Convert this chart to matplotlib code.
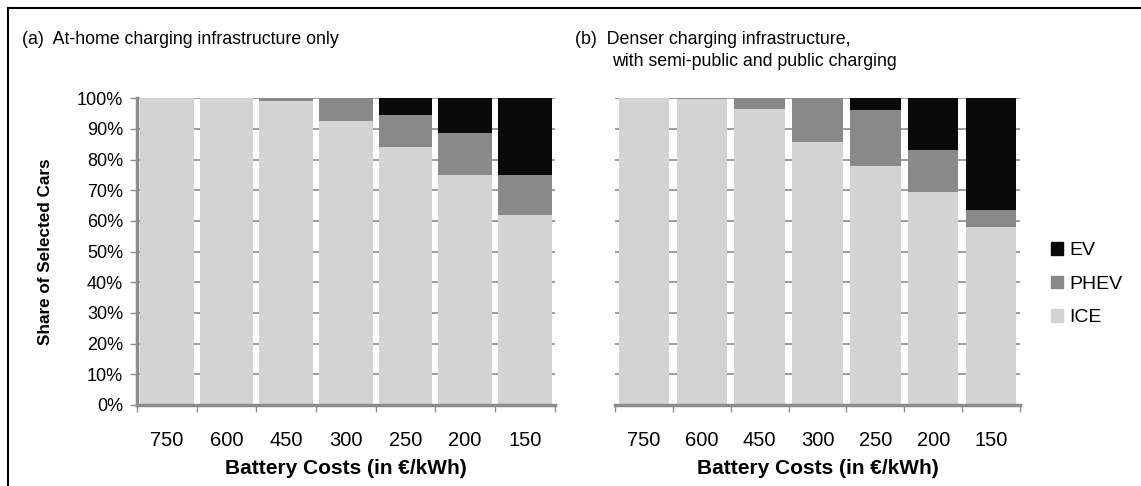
import matplotlib
matplotlib.use("Agg")
import matplotlib.pyplot as plt
from matplotlib.lines import Line2D
from matplotlib.patches import Patch
import numpy as np

plt.rcParams["font.family"] = ["Liberation Sans", "DejaVu Sans"]

costs = ["750", "600", "450", "300", "250", "200", "150"]

# shares in percent, panel (a): at-home charging only
ice_a = [100.0, 100.0, 99.0, 92.5, 84.0, 75.0, 62.0]
phev_a = [0.0, 0.0, 1.0, 7.5, 10.5, 13.5, 13.0]
ev_a = [0.0, 0.0, 0.0, 0.0, 5.5, 11.5, 25.0]

# panel (b): denser charging infrastructure
ice_b = [100.0, 99.8, 96.6, 85.6, 77.9, 69.5, 58.0]
phev_b = [0.0, 0.2, 3.4, 14.4, 18.4, 13.5, 5.5]
ev_b = [0.0, 0.0, 0.0, 0.0, 3.7, 17.0, 36.5]

col_ice = "#d3d3d3"
col_phev = "#898989"
col_ev = "#0a0a0a"
col_axis = "#8c8c8c"

fig = plt.figure(figsize=(11.41, 4.86), dpi=100)
ax_a = fig.add_axes([0.120, 0.167, 0.366, 0.631])
ax_b = fig.add_axes([0.539, 0.167, 0.355, 0.631])


def draw_panel(ax, ice, phev, ev, width, show_y):
    x = np.arange(len(costs))
    ice = np.array(ice)
    phev = np.array(phev)
    ev = np.array(ev)
    ax.bar(x, ice, width=width, color=col_ice, zorder=2)
    ax.bar(x, phev, width=width, bottom=ice, color=col_phev, zorder=2)
    ax.bar(x, ev, width=width, bottom=ice + phev, color=col_ev, zorder=2)
    ax.set_xlim(-0.5, len(costs) - 0.5)
    ax.set_ylim(0, 100)
    ax.set_yticks(np.arange(0, 101, 10))
    ax.yaxis.grid(True, color=col_axis, linewidth=1.2, zorder=0)
    ax.set_axisbelow(True)
    ax.set_xticks(x)
    ax.set_xticklabels(costs, fontsize=14.5)
    ax.set_xticks(np.arange(-0.5, len(costs), 1.0), minor=True)
    ax.tick_params(axis="x", which="major", length=0, pad=19)
    ax.tick_params(axis="x", which="minor", length=5, color=col_axis, width=1)
    for s in ["top", "right"]:
        ax.spines[s].set_visible(False)
    ax.spines["bottom"].set_color(col_axis)
    ax.spines["bottom"].set_linewidth(2.5)
    ax.spines["bottom"].set_zorder(3)
    if show_y:
        ax.spines["left"].set_color(col_axis)
        ax.spines["left"].set_linewidth(2.5)
        ax.spines["left"].set_zorder(3)
        ax.set_yticklabels([f"{v}%" for v in range(0, 101, 10)], fontsize=13)
        ax.tick_params(axis="y", length=5, color=col_axis, width=1, pad=5)
        ax.set_ylabel("Share of Selected Cars", fontsize=12.3, fontweight="bold", labelpad=17)
    else:
        ax.spines["left"].set_visible(False)
        ax.tick_params(axis="y", length=0, labelleft=False)
    ax.set_xlabel("Battery Costs (in €/kWh)", fontsize=15, fontweight="bold", labelpad=6)


draw_panel(ax_a, ice_a, phev_a, ev_a, 0.9, True)
draw_panel(ax_b, ice_b, phev_b, ev_b, 0.87, False)

fig.text(22 / 1141, 1 - 40 / 486, "(a)  At-home charging infrastructure only", fontsize=12.8, va="center")
fig.text(575 / 1141, 1 - 40 / 486, "(b)  Denser charging infrastructure,", fontsize=12.8, va="center")
fig.text(612 / 1141, 1 - 62 / 486, "with semi-public and public charging", fontsize=12.8, va="center")

handles = [Patch(color=col_ev), Patch(color=col_phev), Patch(color=col_ice)]
fig.legend(handles, ["EV", "PHEV", "ICE"], loc="center left", bbox_to_anchor=(0.906, 0.415),
           frameon=False, fontsize=14, handlelength=0.6, handleheight=0.6,
           handletextpad=0.35, labelspacing=0.85)

# frame lines on left and top
fig.add_artist(Line2D([8 / 1141, 8 / 1141], [0, 1 - 8 / 486], transform=fig.transFigure, color="black", linewidth=1.5))
fig.add_artist(Line2D([8 / 1141, 1], [1 - 8 / 486, 1 - 8 / 486], transform=fig.transFigure, color="black", linewidth=1.5))

fig.savefig("out.png", dpi=100)
